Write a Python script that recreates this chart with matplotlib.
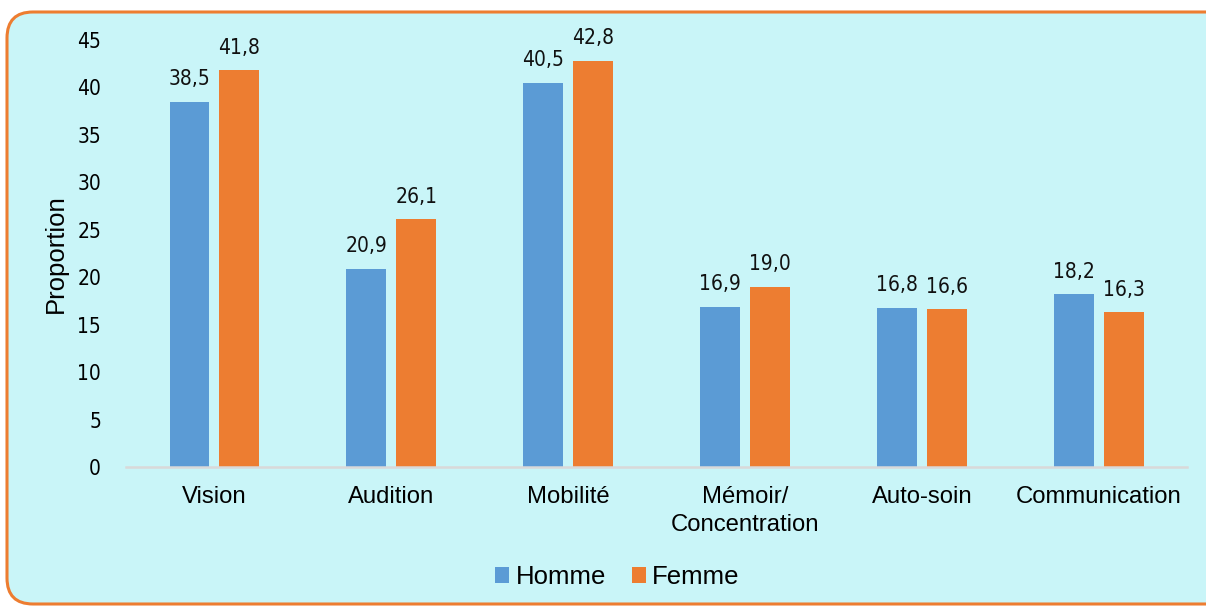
import numpy as np
import matplotlib.pyplot as plt
from matplotlib import font_manager
from matplotlib.patches import FancyBboxPatch
from matplotlib.transforms import IdentityTransform

# proportion by type of difficulty, per sex
categories = ["Vision", "Audition", "Mobilité", "Mémoir/\nConcentration", "Auto-soin", "Communication"]
homme = [38.5, 20.9, 40.5, 16.9, 16.8, 18.2]
femme = [41.8, 26.1, 42.8, 19.0, 16.6, 16.3]
yticks = list(range(0, 50, 5))

BLUE = "#5B9BD5"
ORANGE = "#ED7D31"
PANEL = "#C9F5F8"


def narrow_font(size):
    # numbers use a narrow face when one is installed
    files = [f.fname for f in font_manager.fontManager.ttflist]
    for key in ("LiberationSansNarrow-Regular", "DejaVuSansCondensed.ttf"):
        for fn in files:
            if key in fn:
                return font_manager.FontProperties(fname=fn, size=size)
    return font_manager.FontProperties(family="Roboto", size=size - 2)


def fmt(v):
    return f"{v:.1f}".replace(".", ",")


def main():
    fig = plt.figure(figsize=(12.06, 6.08), dpi=100)
    fig.patch.set_facecolor("white")

    # rounded panel behind the chart (pixel coordinates)
    panel = FancyBboxPatch((7, 4), 1230, 592,
                           boxstyle="round,pad=0,rounding_size=26",
                           transform=IdentityTransform(),
                           facecolor=PANEL, edgecolor=ORANGE, linewidth=2.2,
                           zorder=-5)
    fig.patches.append(panel)

    ax = fig.add_axes([0.1045, 0.2319, 0.8798, 0.7023])
    ax.set_facecolor("none")
    ax.set_zorder(2)

    num_fp = narrow_font(15)

    x = np.arange(len(categories))
    w = 0.226
    off = 0.141
    b1 = ax.bar(x - off, homme, w, color=BLUE, label="Homme", zorder=2)
    b2 = ax.bar(x + off, femme, w, color=ORANGE, label="Femme", zorder=2)

    for bars, vals in ((b1, homme), (b2, femme)):
        for rect, v in zip(bars, vals):
            ax.annotate(fmt(v), (rect.get_x() + rect.get_width() / 2, v),
                        xytext=(0, 9), textcoords="offset points",
                        ha="center", va="bottom", fontproperties=num_fp,
                        color="#111111")

    ax.set_xlim(-0.5, len(categories) - 0.5)
    ax.set_ylim(0, 45)
    ax.set_yticks(yticks)
    ax.set_yticklabels([str(t) for t in yticks], fontproperties=num_fp)
    ax.set_xticks(x)
    ax.set_xticklabels(categories, family="Liberation Sans", fontsize=17.2,
                       linespacing=1.35)
    ax.tick_params(axis="y", length=0, pad=18)
    ax.tick_params(axis="x", length=0, pad=13.5)

    for s in ("top", "right", "left"):
        ax.spines[s].set_visible(False)
    ax.spines["bottom"].set_color("#D9D9D9")
    ax.spines["bottom"].set_linewidth(1.8)

    ax.set_ylabel("Proportion", family="Liberation Sans", fontsize=18.5)
    ax.yaxis.set_label_coords(-0.0547, 0.5)

    fig.legend(loc="center", bbox_to_anchor=(0.512, 0.051), ncol=2,
               frameon=False, prop={"family": "Liberation Sans", "size": 18.5},
               handlelength=0.55, handleheight=0.55, handletextpad=0.25,
               columnspacing=1.0)

    fig.savefig("out.png", dpi=100, facecolor=fig.get_facecolor())


if __name__ == "__main__":
    main()
